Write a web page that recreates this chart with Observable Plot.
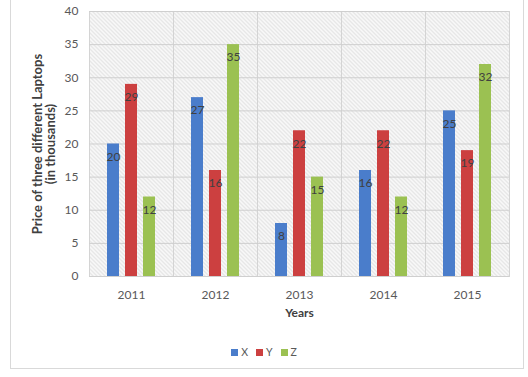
<!DOCTYPE html>
<html>
<head>
<meta charset="utf-8">
<script src="https://cdn.jsdelivr.net/npm/d3@7"></script>
<script src="https://cdn.jsdelivr.net/npm/@observablehq/plot@0.6"></script>
<style>
  html, body { margin: 0; padding: 0; background: #fff; }
  #wrap { position: relative; width: 528px; height: 377px; overflow: hidden; font-family: Lato, "Open Sans", sans-serif; }
  #box { position: absolute; left: 10px; top: -2px; width: 514px; height: 371px; border: 1px solid #d9d9d9; box-sizing: border-box; }
  #chart { position: absolute; left: 0; top: 0; }
  #legend { position: absolute; left: 0; top: 346px; width: 528px; display: flex; justify-content: center; gap: 8px; font-size: 10.5px; color: #595959; }
  #legend span.item { display: inline-flex; align-items: center; gap: 3px; }
  #legend span.sw { display: inline-block; width: 7px; height: 7px; }
</style>
</head>
<body>
<div id="wrap">
  <div id="box"></div>
  <div id="chart"></div>
  <div id="legend"></div>
</div>
<script>
const years = ["2011", "2012", "2013", "2014", "2015"];
const series = ["X", "Y", "Z"];
const xValues = [20, 27, 8, 16, 25];
const yValues = [29, 16, 22, 22, 19];
const zValues = [12, 35, 15, 12, 32];
const yTicks = [0, 5, 10, 15, 20, 25, 30, 35, 40];
const colors = ["#4a7dcb", "#cc4040", "#9bc152"];

const valuesBySeries = {X: xValues, Y: yValues, Z: zValues};
const data = [];
years.forEach((yr, i) => {
  series.forEach(s => data.push({year: yr, series: s, value: valuesBySeries[s][i]}));
});

const chart = Plot.plot({
  width: 528,
  height: 325,
  marginLeft: 88,
  marginRight: 18,
  marginTop: 11,
  marginBottom: 49,
  style: {fontFamily: "Lato, 'Open Sans', sans-serif", fontSize: "12px", color: "#595959", background: "transparent"},
  fx: {domain: years, padding: 0},
  x: {domain: series, paddingInner: 0.32, paddingOuter: 0.95, axis: null},
  y: {domain: [0, 40]},
  color: {domain: series, range: colors},
  marks: [
    Plot.frame({fill: "url(#hatch)", stroke: "#d4d4d4"}),
    Plot.gridY(yTicks, {stroke: "#cfcfcf", strokeOpacity: 1}),
    Plot.barY(data, {fx: "year", x: "series", y: "value", fill: "series"}),
    Plot.text(data, {fx: "year", x: "series", y: "value", text: d => String(d.value), dy: 13, fill: "#404040", fontSize: 12}),
    Plot.axisY(yTicks, {tickSize: 0, tickPadding: 11, fontSize: 12, label: "Price of three different Laptops\n(in thousands)", labelAnchor: "center", labelOffset: 57, labelArrow: "none"}),
    Plot.axisFx({anchor: "bottom", tickSize: 0, tickPadding: 14, fontSize: 12, label: "Years", labelAnchor: "center", labelOffset: 40, labelArrow: "none"})
  ]
});

// hatch pattern definition for plot background
const ns = "http://www.w3.org/2000/svg";
const defs = document.createElementNS(ns, "defs");
const pat = document.createElementNS(ns, "pattern");
pat.setAttribute("id", "hatch");
pat.setAttribute("patternUnits", "userSpaceOnUse");
pat.setAttribute("width", "4");
pat.setAttribute("height", "4");
const bg = document.createElementNS(ns, "rect");
bg.setAttribute("width", "4"); bg.setAttribute("height", "4"); bg.setAttribute("fill", "#f8f8f8");
pat.appendChild(bg);
const p = document.createElementNS(ns, "path");
p.setAttribute("d", "M-1,-1L5,5M3,-1L5,1M-1,3L1,5");
p.setAttribute("stroke", "#d2d2d2");
p.setAttribute("stroke-width", "0.9");
pat.appendChild(p);
defs.appendChild(pat);
chart.insertBefore(defs, chart.firstChild);

// style axis labels
chart.querySelectorAll('[aria-label="y-axis label"] text').forEach(t => {
  t.style.fontWeight = "bold";
  t.setAttribute("fill", "#404040");
  t.style.fontSize = "13px";
});
chart.querySelectorAll('[aria-label="fx-axis label"] text').forEach(t => {
  t.style.fontWeight = "bold";
  t.setAttribute("fill", "#404040");
  t.style.fontSize = "12px";
});

document.getElementById("chart").appendChild(chart);

const legend = document.getElementById("legend");
series.forEach((s, i) => {
  const item = document.createElement("span");
  item.className = "item";
  const sw = document.createElement("span");
  sw.className = "sw";
  sw.style.background = colors[i];
  item.appendChild(sw);
  item.appendChild(document.createTextNode(s));
  legend.appendChild(item);
});
</script>
</body>
</html>
